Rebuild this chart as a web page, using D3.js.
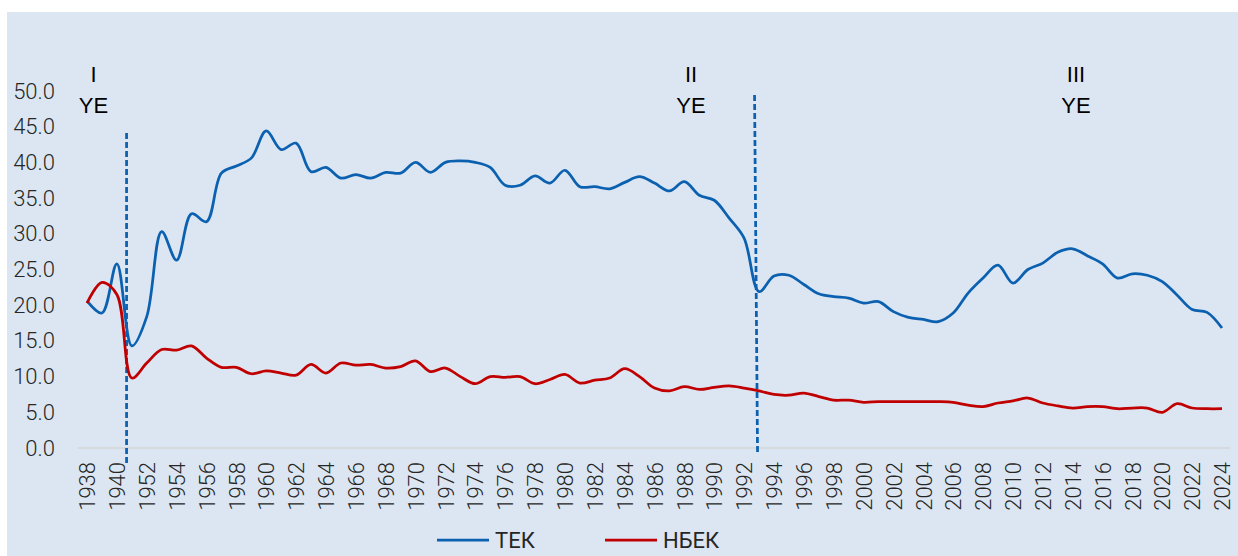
<!DOCTYPE html>
<html>
<head>
<meta charset="utf-8">
<script src="https://cdn.jsdelivr.net/npm/d3@7"></script>
<style>
  body { margin: 0; background: #fff; }
  svg { display: block; }
  .tick text { font-family: Roboto, "Noto Sans", sans-serif; fill: #262626; }
</style>
</head>
<body>
<div id="chart"></div>
<script>
var years = ["1938","1939","1940","1950",
  "1952","1953","1954","1955","1956","1957","1958","1959","1960","1961","1962","1963",
  "1964","1965","1966","1967","1968","1969","1970","1971","1972","1973","1974","1975",
  "1976","1977","1978","1979","1980","1981","1982","1983","1984","1985","1986","1987",
  "1988","1989","1990","1991","1992","1993","1994","1995","1996","1997","1998","1999",
  "2000","2001","2002","2003","2004","2005","2006","2007","2008","2009","2010","2011",
  "2012","2013","2014","2015","2016","2017","2018","2019","2020","2021","2022","2023","2024"];

var tek = [20.6,18.9,25.8,14.3,
  18.4,30.3,26.3,32.8,31.7,38.5,39.5,40.6,44.4,41.8,42.7,38.7,
  39.3,37.8,38.3,37.8,38.6,38.5,40.0,38.6,40.0,40.2,40.0,39.3,
  36.8,36.8,38.1,37.1,38.9,36.6,36.6,36.3,37.2,38.0,37.1,36.0,
  37.3,35.4,34.7,32.2,29.4,21.9,24.1,24.2,22.9,21.6,21.2,21.0,
  20.3,20.5,19.1,18.3,18.0,17.7,18.9,21.7,23.8,25.6,23.1,25.0,
  25.9,27.4,27.9,26.9,25.8,23.8,24.4,24.2,23.3,21.4,19.4,19.0,16.8];

var nbek = [20.3,23.2,21.5,9.8,
  11.9,13.8,13.7,14.3,12.6,11.3,11.3,10.4,10.8,10.5,10.2,11.7,
  10.5,11.9,11.6,11.7,11.2,11.4,12.2,10.7,11.2,10.0,9.0,10.0,
  9.9,10.0,9.0,9.6,10.3,9.1,9.5,9.8,11.1,10.0,8.4,8.0,
  8.6,8.2,8.5,8.7,8.4,8.0,7.5,7.4,7.7,7.2,6.7,6.7,
  6.4,6.5,6.5,6.5,6.5,6.5,6.4,6.0,5.8,6.3,6.6,7.0,
  6.3,5.9,5.6,5.8,5.8,5.5,5.6,5.6,5.0,6.2,5.6,5.5,5.5];

var yTicks = [0,5,10,15,20,25,30,35,40,45,50];

var seriesNames = ["ТЕК", "НБЕК"];
var seriesColors = ["#0b61b0", "#c00000"];

// period labels
var periods = [
  {roman: "I", label: "YE"},
  {roman: "II", label: "YE"},
  {roman: "III", label: "YE"}
];

var W = 1238, H = 556;

var svg = d3.select("#chart").append("svg")
  .attr("width", W).attr("height", H);

svg.append("rect")
  .attr("x", 7).attr("y", 12)
  .attr("width", W - 7).attr("height", H - 12)
  .attr("fill", "#dce6f2");

var x = d3.scalePoint().domain(years).range([87, 1222]);
var y = d3.scaleLinear().domain([0, 50]).range([448, 91]);
var step = x.step();

// baseline
svg.append("line")
  .attr("x1", 78).attr("x2", 1230)
  .attr("y1", y(0)).attr("y2", y(0))
  .attr("stroke", "#d6d6d6").attr("stroke-width", 1.5);

// y axis
var yAxis = svg.append("g")
  .attr("transform", "translate(60,0)")
  .call(d3.axisLeft(y).tickValues(yTicks).tickSize(0).tickPadding(5).tickFormat(d3.format(".1f")));
yAxis.select(".domain").remove();
yAxis.selectAll("text").attr("font-size", 22).attr("font-weight", 300);

// x axis
var xAxis = svg.append("g")
  .attr("transform", "translate(0," + y(0) + ")")
  .call(d3.axisBottom(x).tickValues(years.filter(function(d, i){ return i % 2 === 0; })).tickSize(0));
xAxis.select(".domain").remove();
xAxis.selectAll("text")
  .attr("font-size", 22)
  .attr("font-weight", 300)
  .attr("transform", "rotate(-90)")
  .attr("text-anchor", "end")
  .attr("x", -14).attr("y", 0)
  .attr("dy", "0.35em");

// dashed period dividers
var dividers = [
  {at: "1940", off: 0.65, y1: 133, y2: 465, lean: 0},
  {at: "1992", off: 0.7, y1: 95, y2: 455, lean: 3}
];
dividers.forEach(function(d){
  var xx = x(d.at) + d.off * step;
  svg.append("line")
    .attr("x1", xx).attr("x2", xx + d.lean)
    .attr("y1", d.y1).attr("y2", d.y2)
    .attr("stroke", "#0b61b0").attr("stroke-width", 2.75)
    .attr("stroke-dasharray", "6,3");
});

var labelX = [93.5, 691, 1076];
periods.forEach(function(p, i){
  var t = svg.append("text")
    .attr("x", labelX[i]).attr("y", 82)
    .attr("text-anchor", "middle")
    .attr("font-family", "'Liberation Sans', Arial, sans-serif")
    .attr("font-size", 22)
    .attr("fill", "#000");
  t.append("tspan").attr("x", labelX[i]).text(p.roman);
  t.append("tspan").attr("x", labelX[i]).attr("dy", 31).text(p.label);
});

// lines
var line = d3.line()
  .x(function(d, i){ return x(years[i]); })
  .y(function(d){ return y(d); })
  .curve(d3.curveCatmullRom.alpha(0.5));

[tek, nbek].forEach(function(s, k){
  svg.append("path")
    .datum(s)
    .attr("d", line)
    .attr("fill", "none")
    .attr("stroke", seriesColors[k])
    .attr("stroke-width", 2.75)
    .attr("stroke-linejoin", "round");
});

// legend
var legendX = [437, 605];
seriesNames.forEach(function(name, k){
  var g = svg.append("g").attr("transform", "translate(" + legendX[k] + ",540)");
  g.append("line").attr("x1", 0).attr("x2", 52).attr("y1", 0).attr("y2", 0)
    .attr("stroke", seriesColors[k]).attr("stroke-width", 2.75);
  g.append("text").attr("x", 58).attr("y", 0).attr("dy", "0.36em")
    .attr("font-family", "Roboto, 'Noto Sans', sans-serif")
    .attr("font-size", 22).attr("fill", "#262626")
    .text(name);
});
</script>
</body>
</html>
